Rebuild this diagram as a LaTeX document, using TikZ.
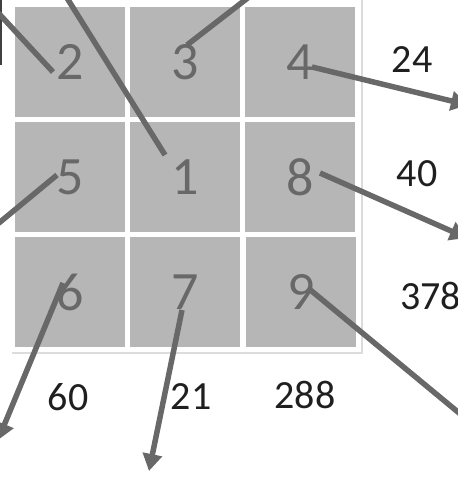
\documentclass[tikz,border=0pt]{standalone}
\usepackage{fontspec}
\setmainfont{Carlito}
\definecolor{cellgray}{HTML}{B6B6B6}
\definecolor{inkgray}{HTML}{686868}
\definecolor{rulegray}{HTML}{DCDCDC}
\usetikzlibrary{positioning, arrows.meta}

\begin{document}
\begin{tikzpicture}[x=1pt, y=-1pt,
  cell/.style={fill=cellgray, minimum width=110pt, minimum height=110pt,
               inner sep=0pt, text=inkgray, font=\fontsize{54}{60}\selectfont},
  total/.style={text=black!88, inner sep=0pt, font=\fontsize{40}{46}\selectfont},
  link/.style={draw=inkgray, line width=5.5pt},
  flow/.style={link, -{Triangle[length=17pt, width=19pt]}},
]
\useasboundingbox (0,0) rectangle (458,477);
\clip (0,0) rectangle (458,477);

\draw[rulegray, line width=2pt] (12,353) -- (362,353) -- (362,-2);
\draw[black!75, line width=2pt] (1,-2) -- (1,65);

\node[cell] (s2) at (70,62) {2};
\node[cell] (s3) at (185,62) {3};
\node[cell] (s4) at (300,62) {4};
\node[cell] (s5) at (70,177) {5};
\node[cell] (s1) at (185,177) {1};
\node[cell] (s8) at (300,177) {8};
\node[cell] (s6) at (70,292) {6};
\node[cell] (s7) at (185,292) {7};
\node[cell] (s9) at (301,292) {9};

\node[total] (n24) at (412,60) {24};
\node[total] (n40) at (417,174) {40};
\node[total, anchor=west] (n378) at (400,296) {378};
\node[total] (n60) at (68,397) {60};
\node[total] (n21) at (191,397) {21};
\node[total] (n288) at (305,395) {288};

\coordinate (e2) at (-10,4);
\coordinate (e1) at (62,-10);
\coordinate (e3) at (258,-10);
\coordinate (e5) at (-12,232);
\coordinate (e4) at (468,105);
\coordinate (e8) at (467,238);
\coordinate (e9) at (470,422);
\coordinate (e6) at (-2,440);
\coordinate (e7) at (149,471);

\draw[link] (e2) -- ([shift={(-17,10)}]s2.center);
\draw[link] (e1) -- ([shift={(-20,-22)}]s1.center);
\draw[link] (e3) -- ([shift={(2,-17)}]s3.center);
\draw[link] (e5) -- ([shift={(-13,-2)}]s5.center);
\draw[flow] ([shift={(12,5)}]s4.center) -- (e4);
\draw[flow] ([shift={(20,-4)}]s8.center) -- (e8);
\draw[link] ([shift={(7,-4)}]s9.center) -- (e9);
\draw[flow] ([shift={(-7,-9)}]s6.center) -- (e6);
\draw[flow] ([shift={(-3,18)}]s7.center) -- (e7);
\end{tikzpicture}
\end{document}
